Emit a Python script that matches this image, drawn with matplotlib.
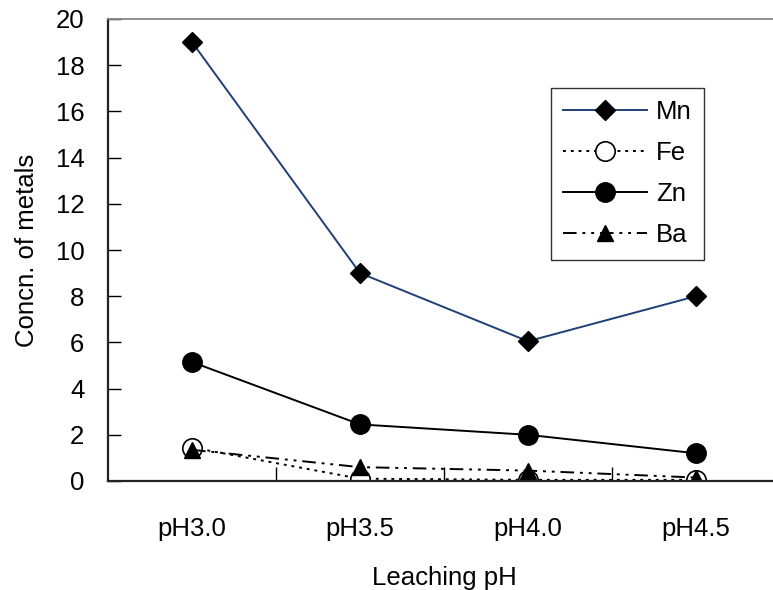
import numpy as np
import matplotlib.pyplot as plt

plt.rcParams['font.family'] = ['Liberation Sans', 'DejaVu Sans']

# data
categories = ['pH3.0', 'pH3.5', 'pH4.0', 'pH4.5']
mn = [19.0, 9.0, 6.05, 8.0]
fe = [1.45, 0.1, 0.05, 0.05]
zn = [5.15, 2.45, 2.0, 1.2]
ba = [1.35, 0.6, 0.45, 0.15]

x = np.arange(len(categories))
fs = 18.5

fig = plt.figure(figsize=(7.73, 5.9), dpi=100)
ax = fig.add_axes([108 / 773, 1 - 481 / 590, 672 / 773, 462 / 590])

ax.plot(x, mn, color='#1f3f77', lw=1.4, marker='D', ms=10,
        mfc='black', mec='black', label='Mn')
ax.plot(x, fe, color='black', lw=1.4, ls=(0, (1.5, 2.5)), marker='o', ms=14,
        mfc='white', mec='black', mew=1.2, label='Fe')
ax.plot(x, zn, color='black', lw=1.4, marker='o', ms=14,
        mfc='black', mec='black', label='Zn')
ax.plot(x, ba, color='black', lw=1.4, ls=(0, (7, 3, 1.5, 3, 1.5, 3)), marker='^', ms=11,
        mfc='black', mec='black', label='Ba')

ax.set_xlim(-0.5, 3.5)
ax.set_ylim(0, 20)
ax.set_yticks(np.arange(0, 21, 2))
ax.set_xticks(x)
ax.set_xticklabels(categories)
ax.set_xticks(x[:-1] + 0.5, minor=True)

ax.tick_params(axis='y', direction='in', length=9, width=1, labelsize=fs, pad=17)
ax.tick_params(axis='x', which='major', length=0, labelsize=fs, pad=26)
ax.tick_params(axis='x', which='minor', direction='in', length=10, width=1)

for s in ['left', 'bottom']:
    ax.spines[s].set_color('#222222')
    ax.spines[s].set_linewidth(1.6)
ax.spines['top'].set_color('#888888')
ax.spines['top'].set_linewidth(1.3)
ax.spines['right'].set_visible(False)

ax.set_xlabel('Leaching pH', fontsize=fs, labelpad=18)
ax.set_ylabel('Concn. of metals', fontsize=fs, labelpad=12)

leg = ax.legend(loc='upper left', bbox_to_anchor=(443 / 672, 1 - 69 / 462),
                fontsize=fs, handlelength=3.25, handletextpad=0.35,
                labelspacing=0.66, borderpad=0.48, borderaxespad=0,
                fancybox=False, edgecolor='#333333', framealpha=1)
leg.get_frame().set_linewidth(1.0)

fig.savefig('out.png', dpi=100)
